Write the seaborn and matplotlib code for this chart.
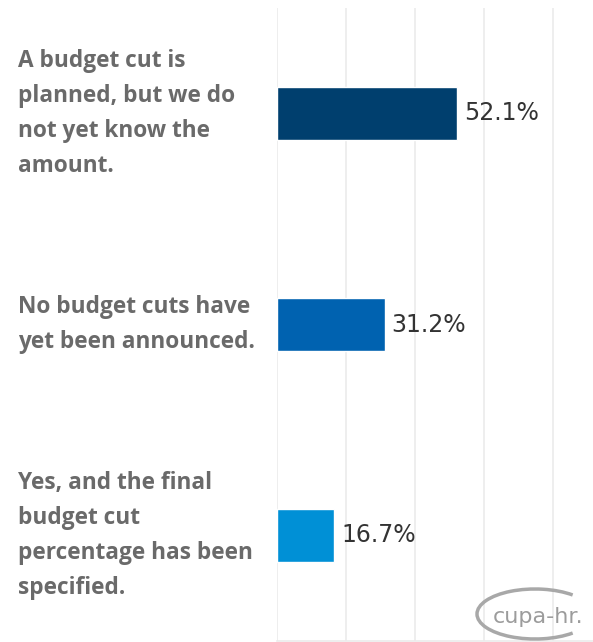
import matplotlib
matplotlib.use("Agg")
import matplotlib.pyplot as plt
from matplotlib.patches import Arc
import seaborn as sns

# Survey responses and their shares (%)
categories = [
    "A budget cut is\nplanned, but we do\nnot yet know the\namount.",
    "No budget cuts have\nyet been announced.",
    "Yes, and the final\nbudget cut\npercentage has been\nspecified.",
]
values = [52.1, 31.2, 16.7]
bar_colors = ["#003f6e", "#0062b0", "#0090d6"]
grid_ticks = [0, 20, 40, 60, 80]

sns.set_theme(style="white")
plt.rcParams["font.family"] = ["DejaVu Sans"]

fig = plt.figure(figsize=(5.93, 6.42), dpi=100)
ax = fig.add_axes([276.7 / 593, 1 / 642, 1 - 276.7 / 593, 633 / 642])

sns.barplot(
    x=values, y=categories, hue=categories, palette=bar_colors,
    orient="h", width=0.25, saturation=1, legend=False, ax=ax,
)

ax.set_xlim(0, 91.5)
ax.set_ylim(2.5, -0.5)
ax.set_xticks(grid_ticks)
ax.set_xticklabels([])
ax.set_yticks([])
ax.set_xlabel("")
ax.set_ylabel("")
ax.tick_params(length=0)
ax.grid(axis="x", color="#ebebeb", linewidth=1.2)
ax.set_axisbelow(True)
for side in ["top", "right", "left"]:
    ax.spines[side].set_visible(False)
ax.spines["bottom"].set_color("#ebebeb")
ax.spines["bottom"].set_linewidth(1.2)

# Value labels beside each bar
for i, v in enumerate(values):
    ax.annotate(f"{v}%", xy=(v, i), xytext=(5, 0), textcoords="offset points",
                va="center", ha="left", fontsize=17, color="#333333")

# Category labels in the left margin
trans = matplotlib.transforms.blended_transform_factory(fig.transFigure, ax.transData)
for i, cat in enumerate(categories):
    ax.text(18 / 593, i, cat, transform=trans, ha="left", va="center",
            fontsize=16.3, fontweight="bold", color="#6a6a6a",
            family=["Open Sans", "DejaVu Sans"], linespacing=1.6)

# cupa-hr mark in the lower right corner
fig.text(538 / 593, 1 - 617 / 642, "cupa-hr.", ha="center", va="center",
         fontsize=16, color="#9c9c9c", family=["DejaVu Sans"])
sw = Arc((535 / 593, 1 - 614 / 642), 116 / 593, 50 / 642, theta1=25, theta2=335,
         transform=fig.transFigure, color="#a8a8a8", linewidth=2.5)
fig.add_artist(sw)

fig.savefig("out.png", dpi=100)
